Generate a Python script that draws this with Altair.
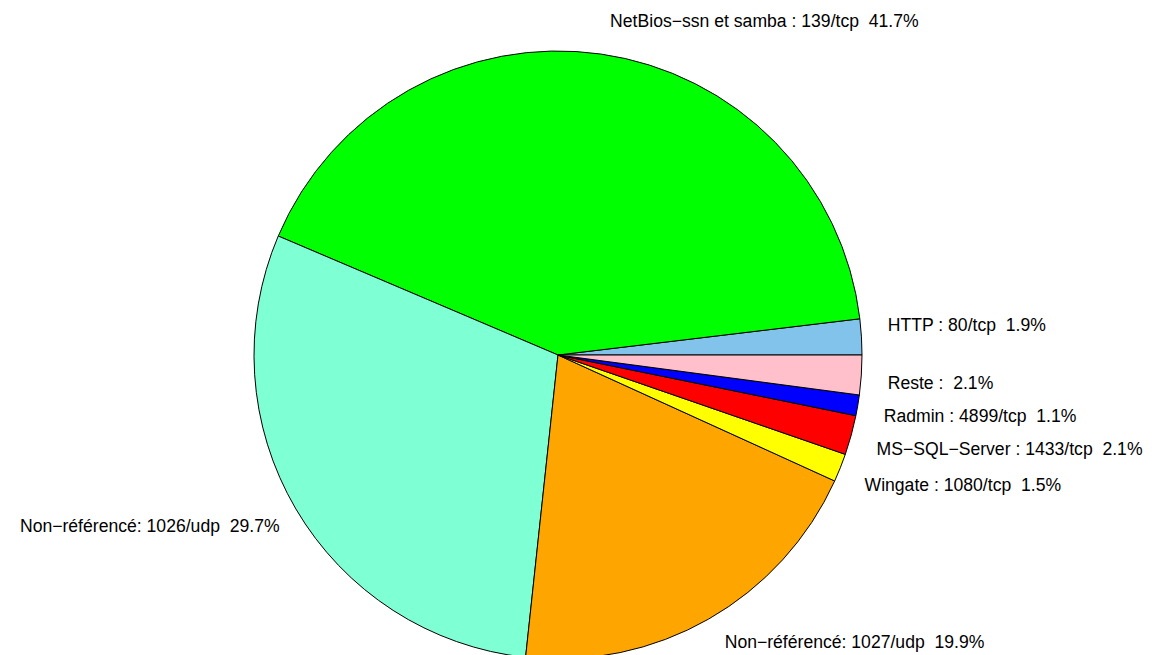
import altair as alt
import pandas as pd

NB = "\u00a0"
labels = [
    f"HTTP : 80/tcp {NB}1.9%",
    f"NetBios\u2212ssn et samba : 139/tcp {NB}41.7%",
    f"Non\u2212référencé: 1026/udp {NB}29.7%",
    f"Non\u2212référencé: 1027/udp {NB}19.9%",
    f"Wingate : 1080/tcp {NB}1.5%",
    f"MS\u2212SQL\u2212Server : 1433/tcp {NB}2.1%",
    f"Radmin : 4899/tcp {NB}1.1%",
    f"Reste : {NB}2.1%",
]
pcts = [1.9, 41.7, 29.7, 19.9, 1.5, 2.1, 1.1, 2.1]
colors = ["#82C3EC", "#00FF00", "#7FFFD4", "#FFA500", "#FFFF00", "#FF0000", "#0000FF", "#FFC0CB"]

df = pd.DataFrame({"idx": list(range(len(labels))), "label": labels, "pct": pcts})

CX, CY, R = 550, 347, 304
PI = 3.141592653589793

base = alt.Chart(df).transform_window(
    cum="sum(pct)", sort=[alt.SortField("idx")], frame=[None, 0]
).transform_calculate(
    start="datum.cum - datum.pct",
).transform_calculate(
    th1=f"{PI/2} - 2*{PI}*datum.cum/100",
    th2=f"{PI/2} - 2*{PI}*datum.start/100",
    a=f"2*{PI}*(datum.start + datum.pct/2)/100",
).transform_calculate(
    mid=f"{PI/2} - datum.a",
    cosa="cos(datum.a)",
    sina="sin(datum.a)",
)

pie = base.mark_arc(radius=R, stroke="black", strokeWidth=1).encode(
    x=alt.value(CX),
    y=alt.value(CY),
    theta=alt.Theta("th1:Q", scale=None),
    theta2="th2:Q",
    color=alt.Color("label:N", scale=alt.Scale(domain=labels, range=colors), legend=None),
)

def text_layer(cond, align, dx, dy):
    return base.transform_filter(cond).mark_text(
        radius=R * 1.1, align=align, baseline="middle", dx=dx, dy=dy,
        font="Liberation Sans", fontSize=17.6, color="black"
    ).encode(
        x=alt.value(CX),
        y=alt.value(CY),
        theta=alt.Theta("mid:Q", scale=None),
        text="label:N",
    )

t_up_small = text_layer("datum.cosa >= 0 && datum.sina >= 0 && datum.pct < 10", "left", -4, -9)
t_up_big = text_layer("datum.cosa >= 0 && datum.sina >= 0 && datum.pct >= 10", "left", 5, -2)
t_low_small = text_layer("datum.cosa >= 0 && datum.sina < 0 && datum.pct < 10", "left", -4, 7)
t_low_big = text_layer("datum.cosa >= 0 && datum.sina < 0 && datum.pct >= 10", "left", 1, -2)
t_left = text_layer("datum.cosa < 0", "right", 10, 3)

chart = alt.layer(pie, t_up_small, t_up_big, t_low_small, t_low_big, t_left).properties(
    width=1138, height=647, padding=0, autosize="none"
).configure_view(stroke=None)

chart.save("out.html", embed_options={"renderer": "svg", "actions": False})
